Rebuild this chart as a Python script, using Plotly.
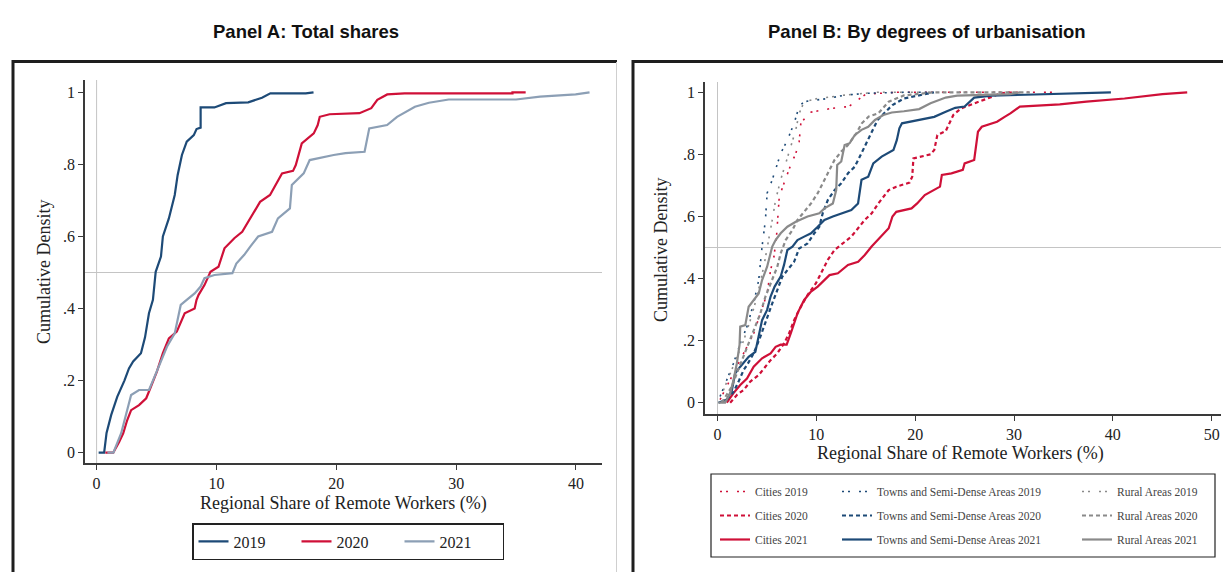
import plotly.graph_objects as go

W, H = 1223, 572

# ---------------- Panel A: total shares (empirical CDFs) ----------------
share_2019 = [0.17, 0.63, 0.83, 1.22, 1.72, 2.32, 2.70, 3.05, 3.70, 4.04, 4.37, 4.70, 4.93, 5.37, 5.53,
              6.03, 6.52, 6.76, 7.12, 7.52, 8.11, 8.34, 8.68, 8.68, 9.83, 10.8, 12.65, 13.8, 14.5, 17.45, 18.1]
cdf_2019 = [0.0, 0.0, 0.055, 0.105, 0.155, 0.20, 0.234, 0.253, 0.276, 0.32, 0.387, 0.424, 0.502, 0.544, 0.60,
            0.65, 0.715, 0.77, 0.826, 0.863, 0.881, 0.898, 0.902, 0.958, 0.958, 0.97, 0.972, 0.985, 0.997, 0.997, 1.0]

share_2020 = [0.73, 1.39, 1.88, 2.22, 2.55, 2.88, 3.54, 4.14, 4.53, 5.03, 5.53, 6.03, 6.69, 7.02, 7.35, 8.18,
              8.34, 8.51, 9.0, 9.5, 10.17, 10.67, 11.49, 12.15, 12.65, 13.15, 13.64, 14.47, 14.97, 15.47,
              16.39, 16.62, 17.12, 18.12, 18.45, 18.62, 19.44, 21.93, 22.92, 23.42, 24.25, 25.7, 34.7, 34.7, 35.8]
cdf_2020 = [0.0, 0.0, 0.03, 0.054, 0.09, 0.118, 0.132, 0.151, 0.183, 0.225, 0.276, 0.317, 0.336, 0.363, 0.387,
            0.40, 0.424, 0.438, 0.465, 0.502, 0.516, 0.567, 0.595, 0.613, 0.641, 0.669, 0.696, 0.715, 0.743,
            0.775, 0.782, 0.798, 0.858, 0.886, 0.909, 0.932, 0.939, 0.942, 0.956, 0.979, 0.994, 0.997, 0.997,
            1.0, 1.0]

share_2021 = [0.9, 1.4, 2.05, 2.55, 2.88, 3.54, 4.37, 4.70, 5.37, 5.87, 6.52, 7.02, 7.52, 8.18, 8.68, 9.0,
              9.83, 11.33, 11.66, 12.32, 12.82, 13.48, 14.64, 15.13, 16.13, 16.29, 17.28, 17.78, 19.78, 20.77,
              22.36, 22.75, 24.24, 25.07, 26.56, 27.73, 29.38, 35.0, 37.0, 39.97, 41.13]
cdf_2021 = [0.0, 0.0, 0.054, 0.118, 0.16, 0.174, 0.174, 0.20, 0.253, 0.294, 0.331, 0.41, 0.424, 0.442, 0.461,
            0.484, 0.493, 0.498, 0.525, 0.549, 0.572, 0.60, 0.613, 0.65, 0.678, 0.743, 0.775, 0.812, 0.826,
            0.831, 0.835, 0.90, 0.909, 0.932, 0.96, 0.971, 0.98, 0.98, 0.988, 0.994, 1.0]

# ---------------- Panel B: by degree of urbanisation ----------------
cities_2019_x = [0.26, 0.94, 1.6, 2.3, 2.98, 3.66, 4.34, 5.02, 5.37, 5.71, 5.98, 6.25, 6.73, 7.41, 7.92, 8.26,
                 8.43, 9.29, 11.5, 13.27, 15.0, 18.1, 34.4]
cities_2019_y = [0.01, 0.052, 0.095, 0.137, 0.18, 0.223, 0.288, 0.352, 0.427, 0.47, 0.54, 0.664, 0.707, 0.766,
                 0.803, 0.841, 0.9, 0.935, 0.948, 0.954, 0.994, 1.0, 1.0]

cities_2020_x = [1.28, 1.96, 2.64, 3.32, 4.17, 4.68, 5.37, 6.05, 6.73, 7.24, 7.75, 8.43, 9.11, 9.96, 10.64,
                 11.16, 11.84, 12.69, 13.54, 14.22, 14.9, 15.6, 16.27, 17.32, 18.09, 19.43, 19.7, 19.82, 21.55,
                 21.93, 22.24, 23.09, 23.86, 24.62, 26.16, 27.32, 28.66, 29.6]
cities_2020_y = [0.0, 0.025, 0.041, 0.068, 0.089, 0.11, 0.137, 0.159, 0.191, 0.223, 0.266, 0.309, 0.347, 0.385,
                 0.427, 0.46, 0.492, 0.513, 0.535, 0.562, 0.589, 0.61, 0.642, 0.685, 0.696, 0.709, 0.728, 0.787,
                 0.80, 0.814, 0.862, 0.875, 0.927, 0.948, 0.965, 0.98, 0.997, 1.0]

cities_2021_x = [0.94, 1.6, 2.3, 2.98, 3.66, 4.51, 5.37, 5.88, 6.39, 7.0, 7.41, 8.09, 8.77, 9.46, 10.14, 10.82,
                 11.33, 12.18, 13.2, 14.23, 14.9, 15.59, 16.4, 17.32, 17.7, 18.09, 19.63, 20.2, 20.97, 21.55,
                 22.51, 22.7, 23.67, 24.82, 25.0, 25.97, 26.35, 26.74, 27.7, 28.28, 29.05, 29.63, 30.59, 34.63,
                 37.33, 41.18, 45.02, 47.52]
cities_2021_y = [0.0, 0.03, 0.057, 0.078, 0.116, 0.143, 0.159, 0.18, 0.187, 0.187, 0.223, 0.288, 0.331, 0.358,
                 0.374, 0.395, 0.411, 0.417, 0.444, 0.454, 0.476, 0.503, 0.53, 0.562, 0.60, 0.615, 0.626, 0.642,
                 0.669, 0.68, 0.696, 0.734, 0.739, 0.75, 0.771, 0.782, 0.873, 0.889, 0.90, 0.905, 0.921, 0.932,
                 0.954, 0.961, 0.97, 0.98, 0.994, 1.0]

towns_2019_x = [0.26, 0.94, 1.62, 2.3, 2.98, 3.66, 4.17, 4.51, 4.85, 5.02, 5.54, 6.39, 7.07, 7.75, 8.26, 8.77,
                9.8, 11.16, 12.88, 15.25, 18.86, 22.0]
towns_2019_y = [0.02, 0.073, 0.127, 0.191, 0.245, 0.32, 0.395, 0.503, 0.589, 0.675, 0.718, 0.803, 0.846, 0.90,
                0.954, 0.97, 0.975, 0.98, 0.991, 0.997, 1.0, 1.0]

towns_2020_x = [0.94, 1.62, 2.13, 2.64, 2.98, 3.66, 4.34, 5.02, 5.54, 6.05, 6.56, 7.07, 7.75, 8.26, 9.11, 9.8,
                10.3, 10.64, 11.16, 11.84, 12.52, 13.2, 13.88, 14.4, 14.9, 15.3, 15.7, 16.2, 17.0, 17.7, 18.86,
                20.4, 21.9]
towns_2020_y = [0.01, 0.035, 0.068, 0.105, 0.121, 0.159, 0.213, 0.277, 0.32, 0.363, 0.406, 0.427, 0.454, 0.497,
                0.513, 0.546, 0.567, 0.61, 0.653, 0.685, 0.707, 0.739, 0.76, 0.793, 0.825, 0.852, 0.878, 0.911,
                0.937, 0.959, 0.98, 0.99, 1.0]

towns_2021_x = [0.1, 0.94, 1.45, 1.79, 2.3, 3.15, 3.83, 4.17, 4.51, 5.02, 5.37, 5.78, 6.39, 6.73, 7.07, 7.58,
                8.09, 8.77, 9.46, 10.14, 10.82, 11.67, 12.52, 13.54, 14.22, 14.57, 15.25, 15.76, 16.61, 17.8,
                18.14, 18.4, 18.66, 20.4, 21.93, 23.09, 24.05, 25.0, 25.97, 27.7, 30.78, 34.25, 39.8]
towns_2021_y = [0.0, 0.01, 0.04, 0.095, 0.116, 0.148, 0.164, 0.213, 0.266, 0.299, 0.342, 0.374, 0.406, 0.444,
                0.492, 0.503, 0.524, 0.535, 0.546, 0.567, 0.589, 0.60, 0.61, 0.621, 0.642, 0.718, 0.728, 0.771,
                0.793, 0.814, 0.846, 0.884, 0.90, 0.911, 0.921, 0.937, 0.95, 0.954, 0.983, 0.989, 0.992, 0.997,
                1.0]

rural_2019_x = [0.6, 1.28, 1.96, 2.64, 3.32, 4.0, 4.68, 5.2, 5.54, 5.88, 6.39, 6.9, 7.41, 7.92, 8.26, 8.77,
                10.14, 12.88, 16.0, 21.5]
rural_2019_y = [0.04, 0.095, 0.148, 0.20, 0.266, 0.342, 0.438, 0.524, 0.589, 0.653, 0.718, 0.771, 0.825, 0.879,
                0.932, 0.97, 0.98, 0.991, 1.0, 1.0]

rural_2020_x = [0.43, 0.94, 1.45, 1.96, 2.47, 3.15, 3.66, 4.34, 4.85, 5.54, 6.05, 6.39, 6.9, 7.58, 8.09, 8.77,
                9.46, 10.14, 10.82, 11.33, 11.84, 12.52, 13.2, 14.05, 14.6, 15.3, 16.27, 17.32, 18.86, 21.9, 31.6]
rural_2020_y = [0.0, 0.025, 0.052, 0.095, 0.137, 0.191, 0.234, 0.288, 0.342, 0.395, 0.438, 0.481, 0.524, 0.556,
                0.589, 0.615, 0.642, 0.675, 0.718, 0.75, 0.782, 0.809, 0.83, 0.868, 0.9, 0.922, 0.932, 0.97,
                0.99, 1.0, 1.0]

rural_2021_x = [0.1, 0.77, 1.28, 1.62, 1.96, 2.23, 2.3, 2.81, 3.15, 3.66, 4.17, 4.51, 5.02, 5.54, 5.88, 6.39,
                7.07, 7.92, 9.11, 10.3, 10.82, 11.67, 12.01, 12.11, 12.52, 12.86, 13.37, 13.88, 14.57, 15.25,
                15.93, 16.78, 17.63, 18.86, 20.4, 21.55, 23.09, 24.24, 29.6, 30.6]
rural_2021_y = [0.0, 0.0, 0.03, 0.073, 0.127, 0.186, 0.245, 0.25, 0.309, 0.331, 0.352, 0.395, 0.438, 0.503,
                0.524, 0.546, 0.567, 0.583, 0.60, 0.61, 0.626, 0.642, 0.685, 0.766, 0.777, 0.83, 0.836, 0.862,
                0.879, 0.889, 0.911, 0.927, 0.935, 0.939, 0.946, 0.965, 0.983, 0.989, 0.994, 1.0]

# Tick labels
y_tickvals = [0, 0.2, 0.4, 0.6, 0.8, 1.0]
y_ticktext = ["0", ".2", ".4", ".6", ".8", "1"]
xa_ticks = [0, 10, 20, 30, 40]
xb_ticks = [0, 10, 20, 30, 40, 50]

# ---------------- styling ----------------
SERIF = "Liberation Serif, Times New Roman, serif"
SANS = "Liberation Sans, Arial, sans-serif"
NAVY = "#1d4a77"
RED = "#cf1038"
STEEL = "#8c9fb5"
GREY = "#8a8a8a"
TEXT = "#222222"
AXIS = "#3a3a3a"
REFLINE = "#c4c4c4"

DOT = "2px,4px,2px,9px"
DASH = "4px,3px"


def px_x(p):
    return p / W


def px_y(p):
    return 1 - p / H


fig = go.Figure()

# Panel A traces
for xs, ys, name, col in [(share_2019, cdf_2019, "2019", NAVY),
                          (share_2020, cdf_2020, "2020", RED),
                          (share_2021, cdf_2021, "2021", STEEL)]:
    fig.add_trace(go.Scatter(x=xs, y=ys, mode="lines", name=name, xaxis="x", yaxis="y",
                             line=dict(color=col, width=2.2), legend="legend"))

# Panel B traces: one legend column per area type
groups = [
    ("Cities", RED, "legend2", [(cities_2019_x, cities_2019_y, "2019"),
                                 (cities_2020_x, cities_2020_y, "2020"),
                                 (cities_2021_x, cities_2021_y, "2021")]),
    ("Towns and Semi-Dense Areas", NAVY, "legend3", [(towns_2019_x, towns_2019_y, "2019"),
                                                     (towns_2020_x, towns_2020_y, "2020"),
                                                     (towns_2021_x, towns_2021_y, "2021")]),
    ("Rural Areas", GREY, "legend4", [(rural_2019_x, rural_2019_y, "2019"),
                                      (rural_2020_x, rural_2020_y, "2020"),
                                      (rural_2021_x, rural_2021_y, "2021")]),
]
year_style = {"2019": (DOT, 1.6), "2020": (DASH, 2.2), "2021": ("solid", 2.2)}
for label, col, leg, series in groups:
    for xs, ys, yr in series:
        dash, w = year_style[yr]
        fig.add_trace(go.Scatter(x=xs, y=ys, mode="lines", name=f"{label} {yr}",
                                 xaxis="x2", yaxis="y2", legend=leg,
                                 legendgroup=f"{label}{yr}",
                                 line=dict(color=col, width=w, dash=dash)))

# Axis geometry (pixels in the 1223x572 canvas)
A_X0, A_X1, A_Y0, A_Y1 = 85, 602, 80, 463
B_X0, B_X1, B_Y0, B_Y1 = 705, 1221, 82, 414

axis_common = dict(showline=True, linecolor=AXIS, linewidth=1.5, ticks="outside", ticklen=5,
                   tickwidth=1.2, tickcolor=AXIS, showgrid=False, zeroline=False,
                   tickfont=dict(family=SERIF, size=16, color=TEXT), fixedrange=True)

legend_col = dict(xanchor="left", yanchor="top", bgcolor="rgba(0,0,0,0)", itemwidth=30,
                  tracegroupgap=5, font=dict(family=SERIF, size=11.5, color="#444"))

fig.update_layout(
    width=W, height=H, margin=dict(l=0, r=0, t=0, b=0),
    paper_bgcolor="white", plot_bgcolor="white",
    xaxis=dict(domain=[px_x(A_X0), px_x(A_X1)], range=[-0.968, 42.17], anchor="y",
               tickvals=xa_ticks, **axis_common),
    yaxis=dict(domain=[px_y(A_Y1), px_y(A_Y0)], range=[-0.0286, 1.0341], anchor="x",
               tickvals=y_tickvals, ticktext=y_ticktext, **axis_common),
    xaxis2=dict(domain=[px_x(B_X0), px_x(B_X1)], range=[-1.265, 50.94], anchor="y2",
                tickvals=xb_ticks, **axis_common),
    yaxis2=dict(domain=[px_y(B_Y1), px_y(B_Y0)], range=[-0.0364, 1.0332], anchor="x2",
                tickvals=y_tickvals, ticktext=y_ticktext, **axis_common),
    legend=dict(orientation="h", x=px_x(192), y=px_y(523), xanchor="left", yanchor="top",
                bordercolor=TEXT, borderwidth=1.5, bgcolor="white", entrywidth=58, itemwidth=30,
                font=dict(family=SERIF, size=16, color=TEXT)),
    legend2=dict(x=px_x(715), y=px_y(477), **legend_col),
    legend3=dict(x=px_x(837), y=px_y(477), **legend_col),
    legend4=dict(x=px_x(1077), y=px_y(477), **legend_col),
    showlegend=True,
)

shapes = []
# reference lines at x = 0 and at the median (0.5)
for xr, yr in [("x", "y"), ("x2", "y2")]:
    shapes.append(dict(type="line", xref=xr, yref=f"{yr} domain", x0=0, x1=0, y0=0, y1=1,
                       line=dict(color=REFLINE, width=1), layer="below"))
    shapes.append(dict(type="line", xref=f"{xr} domain", yref=yr, x0=0, x1=1, y0=0.5, y1=0.5,
                       line=dict(color=REFLINE, width=1), layer="below"))

# panel frames
FRAME = "#1e1e1e"
frame_lines = [
    (13, 60, 13, 572, FRAME, 3),
    (12, 61.5, 617, 61.5, FRAME, 3),
    (616.5, 62, 616.5, 572, "#cfcfcf", 1),
    (633, 60, 633, 572, FRAME, 3),
    (632, 61.5, 1223, 61.5, FRAME, 3),
]
for x0, y0, x1, y1, c, w in frame_lines:
    shapes.append(dict(type="line", xref="paper", yref="paper", x0=px_x(x0), x1=px_x(x1),
                       y0=px_y(y0), y1=px_y(y1), line=dict(color=c, width=w)))

# Panel B legend box
shapes.append(dict(type="rect", xref="paper", yref="paper", x0=px_x(711), x1=px_x(1215),
                   y0=px_y(557), y1=px_y(474), line=dict(color=TEXT, width=1.2)))
fig.update_layout(shapes=shapes)

annotations = [
    dict(text="<b>Panel A: Total shares</b>", x=px_x(306), y=px_y(32), font=dict(family=SANS, size=18.5, color="#111")),
    dict(text="<b>Panel B: By degrees of urbanisation</b>", x=px_x(927), y=px_y(32), font=dict(family=SANS, size=18.5, color="#111")),
    dict(text="Regional Share of Remote Workers (%)", x=px_x(343), y=px_y(503), font=dict(family=SERIF, size=18, color=TEXT)),
    dict(text="Regional Share of Remote Workers (%)", x=px_x(960), y=px_y(453), font=dict(family=SERIF, size=18, color=TEXT)),
    dict(text="Cumulative Density", x=px_x(44), y=px_y(272), textangle=-90, font=dict(family=SERIF, size=18, color=TEXT)),
    dict(text="Cumulative Density", x=px_x(661), y=px_y(250), textangle=-90, font=dict(family=SERIF, size=18, color=TEXT)),
]
for a in annotations:
    a.update(xref="paper", yref="paper", showarrow=False, xanchor="center", yanchor="middle")
fig.update_layout(annotations=annotations)

fig.write_html("out.html", config={"displayModeBar": False})
